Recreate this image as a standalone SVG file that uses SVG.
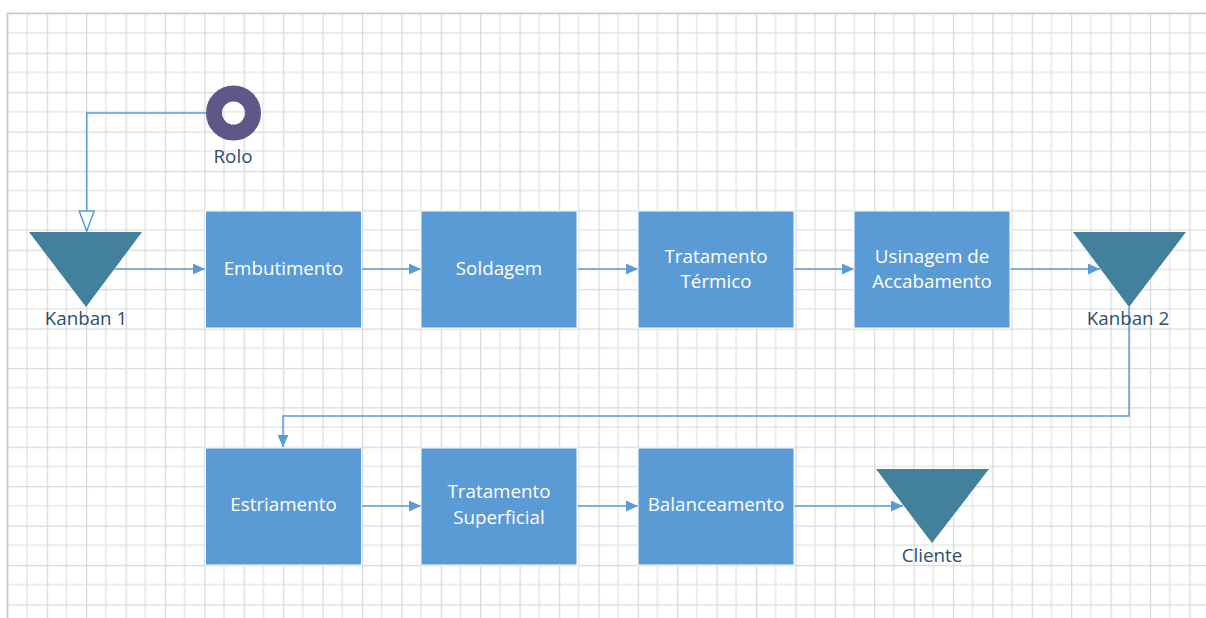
<svg xmlns="http://www.w3.org/2000/svg" width="1206" height="618" viewBox="0 0 1206 618">
  <style>
    .box { fill: #5b9bd5; stroke: #ffffff; stroke-width: 1; }
    .tri { fill: #42809c; }
    .boxtxt { font-family: "Open Sans", "Noto Sans", sans-serif; font-size: 18.8px; fill: #ffffff; text-anchor: middle; }
    .lbl { font-family: "Open Sans", "Noto Sans", sans-serif; font-size: 18.8px; fill: #2d4e6f; text-anchor: middle; }
    .conn { fill: none; stroke: #5b9bd5; stroke-width: 1.5; }
  </style>
  <defs>
    <pattern id="grid" x="7.3" y="13.3" width="39.4" height="39.4" patternUnits="userSpaceOnUse">
      <path d="M19.7,0 V39.4 M0,19.7 H39.4" stroke="#e6e6e6" stroke-width="1.5" fill="none"/>
      <path d="M0.5,0 V39.4 M0,0.5 H39.4" stroke="#d9d9d9" stroke-width="1.5" fill="none"/>
    </pattern>
    <marker id="arr" markerUnits="userSpaceOnUse" markerWidth="13" markerHeight="12" refX="12" refY="5.5" orient="auto">
      <path d="M0,0 L12,5.5 L0,11 z" fill="#5b9bd5"/>
    </marker>
    <marker id="hollow" markerUnits="userSpaceOnUse" markerWidth="24" markerHeight="20" refX="21" refY="8.5" orient="auto">
      <path d="M1,1 L21,8.5 L1,16 z" fill="#ffffff" stroke="#5b9bd5" stroke-width="1.5"/>
    </marker>
  </defs>
  <rect x="0" y="0" width="1206" height="618" fill="#ffffff"/>
  <rect x="7.3" y="13.3" width="1200" height="610" fill="url(#grid)"/>
  <path d="M7.3,618 V13.3 H1206" stroke="#cccccc" stroke-width="1.5" fill="none"/>

  <g id="connectors">
    <path class="conn" d="M206,113 H86.7 V231" marker-end="url(#hollow)"/>
    <path class="conn" d="M115,269 H205" marker-end="url(#arr)"/>
    <path class="conn" d="M361,269 H421" marker-end="url(#arr)"/>
    <path class="conn" d="M577,269 H638" marker-end="url(#arr)"/>
    <path class="conn" d="M794,269 H854" marker-end="url(#arr)"/>
    <path class="conn" d="M1010,269 H1100" marker-end="url(#arr)"/>
    <path class="conn" d="M1129,307 V416 H283 V447" marker-end="url(#arr)"/>
    <path class="conn" d="M361,506 H421" marker-end="url(#arr)"/>
    <path class="conn" d="M577,506 H638" marker-end="url(#arr)"/>
    <path class="conn" d="M794,506 H903" marker-end="url(#arr)"/>
  </g>

  <g id="rolo">
    <circle cx="233.5" cy="113" r="19.5" fill="none" stroke="#5f5788" stroke-width="16"/>
    <text class="lbl" x="233" y="163">Rolo</text>
  </g>
  <g id="kanban1">
    <polygon class="tri" points="29,232 142,232 86,307"/>
    <text class="lbl" x="86" y="325">Kanban 1</text>
  </g>
  <g id="embutimento">
    <rect class="box" x="205.5" y="211" width="156" height="117"/>
    <text class="boxtxt" x="283.5" y="275">Embutimento</text>
  </g>
  <g id="soldagem">
    <rect class="box" x="421" y="211" width="156" height="117"/>
    <text class="boxtxt" x="499" y="275">Soldagem</text>
  </g>
  <g id="tratamento-termico">
    <rect class="box" x="638" y="211" width="156" height="117"/>
    <text class="boxtxt" x="716" y="262.5">Tratamento</text>
    <text class="boxtxt" x="716" y="288">Térmico</text>
  </g>
  <g id="usinagem">
    <rect class="box" x="854" y="211" width="156" height="117"/>
    <text class="boxtxt" x="932" y="262.5">Usinagem de</text>
    <text class="boxtxt" x="932" y="288">Accabamento</text>
  </g>
  <g id="kanban2">
    <polygon class="tri" points="1073,232 1186,232 1129,307"/>
    <text class="lbl" x="1128" y="325">Kanban 2</text>
  </g>
  <g id="estriamento">
    <rect class="box" x="205.5" y="448" width="156" height="117"/>
    <text class="boxtxt" x="283.5" y="511">Estriamento</text>
  </g>
  <g id="tratamento-superficial">
    <rect class="box" x="421" y="448" width="156" height="117"/>
    <text class="boxtxt" x="499" y="498">Tratamento</text>
    <text class="boxtxt" x="499" y="523.5">Superficial</text>
  </g>
  <g id="balanceamento">
    <rect class="box" x="638" y="448" width="156" height="117"/>
    <text class="boxtxt" x="716" y="511">Balanceamento</text>
  </g>
  <g id="cliente">
    <polygon class="tri" points="876,469 989,469 932,543"/>
    <text class="lbl" x="932" y="561.5">Cliente</text>
  </g>
</svg>
